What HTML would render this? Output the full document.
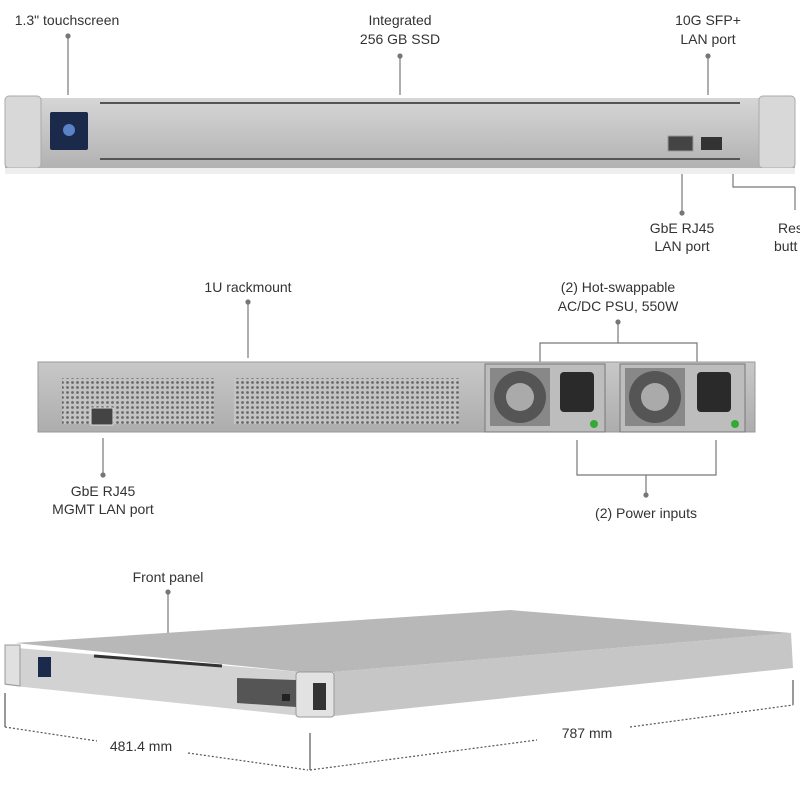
<!DOCTYPE html>
<html><head><meta charset="utf-8"><style>
body{margin:0;background:#fff;width:800px;height:800px;overflow:hidden}
svg{display:block}
text{font-family:"Liberation Sans",sans-serif;font-size:14px;fill:#333;text-anchor:middle}
</style></head><body>
<svg width="800" height="800" viewBox="0 0 800 800">
<defs>
<linearGradient id="g1" x1="0" y1="0" x2="0" y2="1"><stop offset="0" stop-color="#d6d6d6"/><stop offset="0.5" stop-color="#c4c4c4"/><stop offset="1" stop-color="#b2b2b2"/></linearGradient>
<linearGradient id="g2" x1="0" y1="0" x2="0" y2="1"><stop offset="0" stop-color="#c8c8c8"/><stop offset="1" stop-color="#adadad"/></linearGradient>
<pattern id="mesh" width="5" height="5" patternUnits="userSpaceOnUse"><rect width="5" height="5" fill="#c4c4c4"/><circle cx="2.5" cy="2.5" r="1.4" fill="#6a6a6a"/></pattern>
</defs>
<g stroke="#777" stroke-width="1.2" fill="#777">
<line x1="68" y1="36" x2="68" y2="95"/><circle cx="68" cy="36" r="2"/>
<line x1="400" y1="56" x2="400" y2="95"/><circle cx="400" cy="56" r="2"/>
<line x1="708" y1="56" x2="708" y2="95"/><circle cx="708" cy="56" r="2"/>
<line x1="682" y1="172" x2="682" y2="213"/><circle cx="682" cy="213" r="2"/>
<polyline points="733,172 733,187 795,187" fill="none"/>
<line x1="795" y1="187" x2="795" y2="210"/>
<line x1="248" y1="302" x2="248" y2="358"/><circle cx="248" cy="302" r="2"/>
<polyline points="540,362 540,343 697,343 697,362" fill="none"/>
<line x1="618" y1="322" x2="618" y2="343"/><circle cx="618" cy="322" r="2"/>
<line x1="103" y1="438" x2="103" y2="475"/><circle cx="103" cy="475" r="2"/>
<polyline points="577,440 577,475 716,475 716,440" fill="none"/>
<line x1="646" y1="475" x2="646" y2="495"/><circle cx="646" cy="495" r="2"/>
<line x1="168" y1="592" x2="168" y2="655"/><circle cx="168" cy="592" r="2"/>
</g>
<text x="67" y="25" >1.3" touchscreen</text>
<text x="400" y="25">Integrated</text><text x="400" y="44">256 GB SSD</text>
<text x="708" y="25">10G SFP+</text><text x="708" y="44">LAN port</text>
<text x="682" y="233">GbE RJ45</text><text x="682" y="251">LAN port</text>
<text x="778" y="233" style="text-anchor:start">Res</text><text x="774" y="251" style="text-anchor:start">butt</text>
<text x="248" y="292">1U rackmount</text>
<text x="618" y="292">(2) Hot-swappable</text><text x="618" y="311">AC/DC PSU, 550W</text>
<text x="103" y="496">GbE RJ45</text><text x="103" y="514">MGMT LAN port</text>
<text x="646" y="518">(2) Power inputs</text>
<text x="168" y="582">Front panel</text>
<text x="141" y="751">481.4 mm</text>
<text x="587" y="738">787 mm</text>

<!-- device 1 -->
<rect x="5" y="98" width="790" height="70" fill="url(#g1)"/>
<rect x="5" y="96" width="36" height="72" rx="4" fill="#d8d8d8" stroke="#aaa"/>
<rect x="759" y="96" width="36" height="72" rx="4" fill="#d8d8d8" stroke="#aaa"/>
<g stroke="#555" stroke-width="2">
<line x1="100" y1="103" x2="740" y2="103"/><line x1="100" y1="159" x2="740" y2="159"/>
</g>
<rect x="50" y="112" width="38" height="38" rx="2" fill="#1b2a4a"/>
<circle cx="69" cy="130" r="6" fill="#5a82c8"/>
<rect x="668" y="136" width="25" height="15" fill="#444" stroke="#999"/>
<rect x="701" y="137" width="21" height="13" fill="#333"/>
<rect x="5" y="168" width="790" height="6" fill="#eee"/>

<!-- device 2 -->
<rect x="38" y="362" width="717" height="70" fill="url(#g2)" stroke="#999"/>
<rect x="62" y="378" width="152" height="46" fill="url(#mesh)"/>
<rect x="234" y="378" width="225" height="46" fill="url(#mesh)"/>
<rect x="91" y="408" width="22" height="17" fill="#444" stroke="#ddd"/>
<g>
<rect x="485" y="364" width="120" height="68" fill="#bdbdbd" stroke="#777"/>
<rect x="490" y="368" width="60" height="58" fill="#888"/>
<circle cx="520" cy="397" r="26" fill="#555"/><circle cx="520" cy="397" r="14" fill="#aaa"/>
<rect x="560" y="372" width="34" height="40" rx="4" fill="#2a2a2a"/>
<circle cx="594" cy="424" r="4" fill="#3a3"/>
<rect x="620" y="364" width="125" height="68" fill="#bdbdbd" stroke="#777"/>
<rect x="625" y="368" width="60" height="58" fill="#888"/>
<circle cx="655" cy="397" r="26" fill="#555"/><circle cx="655" cy="397" r="14" fill="#aaa"/>
<rect x="697" y="372" width="34" height="40" rx="4" fill="#2a2a2a"/>
<circle cx="735" cy="424" r="4" fill="#3a3"/>
</g>

<!-- device 3 -->
<polygon points="15,643 510,610 791,633 334,672 301,672" fill="#b8b8b8"/>
<polygon points="334,672 791,633 793,668 334,716" fill="#c6c6c6"/>
<polygon points="5,647 301,672 311,717 5,685" fill="#d2d2d2"/>
<polygon points="5,645 20,645 20,686 5,684" fill="#e0e0e0" stroke="#999"/>
<rect x="296" y="672" width="38" height="45" rx="3" fill="#e2e2e2" stroke="#999"/>
<rect x="313" y="683" width="13" height="27" fill="#333"/>
<rect x="38" y="657" width="13" height="20" fill="#1b2a4a"/>
<line x1="94" y1="656" x2="222" y2="666" stroke="#333" stroke-width="3"/>
<polygon points="237,678 296,680 296,707 237,703" fill="#555"/>
<rect x="282" y="694" width="8" height="7" fill="#222"/>

<!-- dimensions -->
<g stroke="#555" stroke-width="1.2" fill="none">
<line x1="5" y1="693" x2="5" y2="727"/>
<line x1="310" y1="733" x2="310" y2="770"/>
<line x1="793" y1="680" x2="793" y2="705"/>
<g stroke-dasharray="2,2">
<line x1="5" y1="727" x2="97" y2="741"/>
<line x1="188" y1="753" x2="308" y2="770"/>
<line x1="310" y1="770" x2="537" y2="740"/>
<line x1="630" y1="727" x2="793" y2="705"/>
</g></g>
</svg>
</body></html>
